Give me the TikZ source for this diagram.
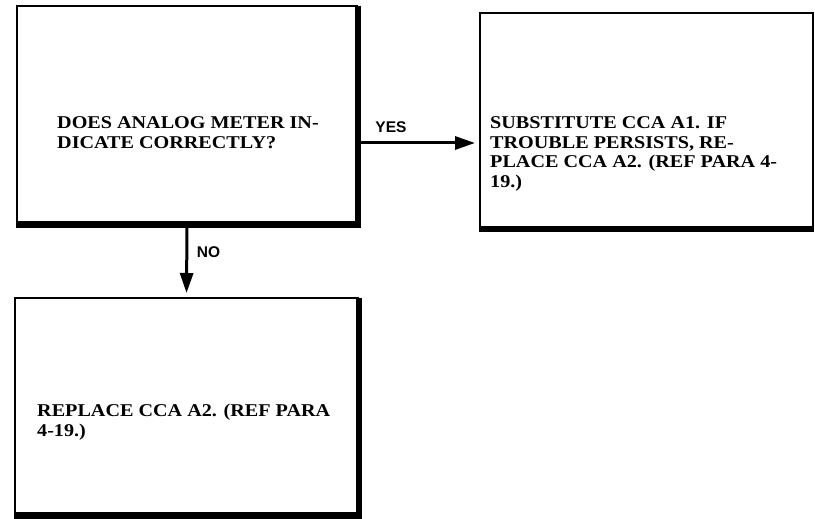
\documentclass[tikz,border=0pt]{standalone}
\usepackage{fontspec}
\setmainfont{Liberation Serif}
\newfontfamily\boxfont[FakeStretch=1.12]{Liberation Serif}
\newfontfamily\labelfont{Liberation Sans}
\usetikzlibrary{arrows.meta}
\tikzset{
  box/.style={draw, line width=2pt, rectangle, inner sep=0pt},
  shadowline/.style={line width=6pt},
  boxtext/.style={anchor=base west, inner sep=0pt, align=left,
    font=\boxfont\bfseries\fontsize{18}{18}\selectfont},
  flow/.style={line width=3pt, -{Triangle[length=20pt,width=13pt]}, shorten >=4pt},
  flowlabel/.style={inner sep=0pt, font=\labelfont\bfseries\fontsize{15.5}{16}\selectfont}
}
\begin{document}
\begin{tikzpicture}[x=1pt,y=-1pt]
\useasboundingbox (0,0) rectangle (815,519);
% boxes
\node[box, minimum width=340pt, minimum height=216pt] (b1) at (187,114) {};
\node[box, minimum width=333pt, minimum height=214pt] (b2) at (646.5,120) {};
\node[box, minimum width=343pt, minimum height=215pt] (b3) at (186.5,405.5) {};
% shadows (heavy right and bottom edges)
\draw[shadowline] ([yshift=-1pt]b1.north east) -- ([yshift=-2pt]b1.south east) -- ([yshift=-2pt]b1.south west);
\draw[shadowline] ([yshift=-1pt]b2.south east) -- ([yshift=-1pt]b2.south west);
\draw[shadowline] ([yshift=-1pt]b3.north east) -- ([yshift=-1.5pt]b3.south east) -- ([yshift=-1.5pt]b3.south west);
% texts (anchor = baseline of the last line)
\node[boxtext] (t1) at (57,148) {DOES ANALOG METER IN-\\[1.5pt]DICATE CORRECTLY?};
\node[boxtext] (t2) at (490,187) {SUBSTITUTE CCA A1. IF\\[1.5pt]TROUBLE PERSISTS, RE-\\[1.5pt]PLACE CCA A2. (REF PARA 4-\\[1.5pt]19.)};
\node[boxtext] (t3) at (37,436) {REPLACE CCA A2. (REF PARA\\[1.5pt]4-19.)};
% connectors
\coordinate (yeslevel) at (0,143);
\draw[flow] (b1.east |- yeslevel) -- (b2.west |- yeslevel);
\draw[flow] (b1.south) -- (b3.north);
\node[flowlabel] (yes) at (391,127) {YES};
\node[flowlabel] (no) at (208.5,252) {NO};
\end{tikzpicture}
\end{document}
